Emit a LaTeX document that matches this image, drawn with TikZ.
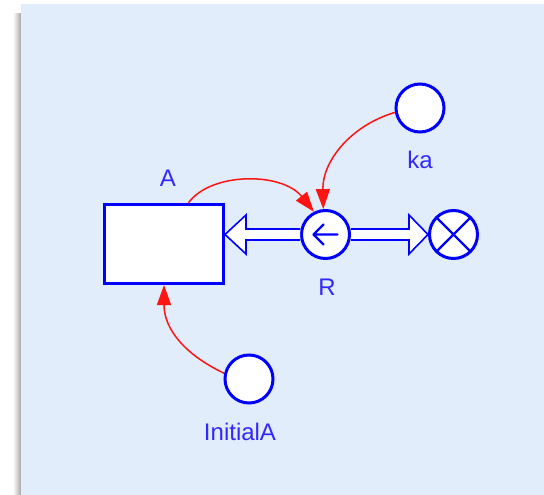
\documentclass[tikz,border=0pt]{standalone}
\usepackage{fontspec}
\setmainfont{Liberation Sans}
\usetikzlibrary{arrows.meta,calc}
\definecolor{panel}{RGB}{225,237,250}
\definecolor{sdblue}{RGB}{0,0,255}
\definecolor{lblblue}{RGB}{50,40,255}
\definecolor{infred}{RGB}{255,20,20}
\tikzset{
  aux/.style={circle,draw=sdblue,fill=white,line width=3pt,minimum size=48pt,inner sep=0pt},
  stockbox/.style={rectangle,draw=sdblue,fill=white,line width=3pt,minimum width=119pt,minimum height=79pt,inner sep=0pt},
  lbl/.style={text=lblblue,font=\fontsize{24}{28}\selectfont,inner sep=0pt},
  pipe/.style={draw=sdblue,fill=white,line width=1.6pt,line join=miter},
  infl/.style={draw=infred,line width=1.5pt,-{Triangle[length=20pt,width=14pt]},fill=none},
}
\begin{document}
\begin{tikzpicture}[x=1pt,y=-1pt]
\useasboundingbox (0,0) rectangle (544,495);
% shadow and panel
\shade[left color=white,right color=black!35] (13,14) rectangle (21,495);
\fill[panel] (21,4) rectangle (544,495);
% nodes
\node[stockbox] (A) at (164,244) {};
\node[aux] (R) at (325.5,234.5) {};
\node[aux] (cloud) at (453.5,234.5) {};
\node[aux] (ka) at (420,108) {};
\node[aux] (IA) at (249,379) {};
% labels
\node[lbl] (lA) at (168,178) {A};
\node[lbl] (lR) at (327,287) {R};
\node[lbl] (lka) at (420,160) {ka};
\node[lbl] (lIA) at (240,432) {InitialA};
% valve arrow and cloud cross
\draw[sdblue,line width=2.4pt,line cap=round,line join=round]
  ($(R.center)+(12,0)$) -- ($(R.center)+(-12,0)$)
  ($(R.center)+(-2,-10)$) -- ($(R.center)+(-12,0)$) -- ($(R.center)+(-2,10)$);
\draw[sdblue,line width=2.4pt]
  ($(cloud.center)+(45:24)$) -- ($(cloud.center)+(225:24)$)
  ($(cloud.center)+(135:24)$) -- ($(cloud.center)+(315:24)$);
% pipes
\coordinate (tipA) at (A.east |- R.center);
\coordinate (tipC) at (cloud.west);
\draw[pipe] ($(R.west)+(0,-5.5)$) -- ($(tipA)+(21,-5.5)$) -- ($(tipA)+(21,-19.5)$) -- (tipA)
  -- ($(tipA)+(21,19.5)$) -- ($(tipA)+(21,5.5)$) -- ($(R.west)+(0,5.5)$);
\draw[pipe] ($(R.east)+(0,-5.5)$) -- ($(tipC)+(-19,-5.5)$) -- ($(tipC)+(-19,-19.5)$) -- (tipC)
  -- ($(tipC)+(-19,19.5)$) -- ($(tipC)+(-19,5.5)$) -- ($(R.east)+(0,5.5)$);
% influence connectors
\coordinate (Atop) at ($(A.north west)!0.7!(A.north east)$);
\draw[infl] (Atop) .. controls +(22,-31) and +(-32,-40) .. (R.117);
\draw[infl] (ka.190) .. controls +(-44,13) and +(-1,-48) .. (R.95);
\draw[infl] (IA.167) .. controls +(-38,-18) and +(0,45) .. (A.south);
\end{tikzpicture}
\end{document}
